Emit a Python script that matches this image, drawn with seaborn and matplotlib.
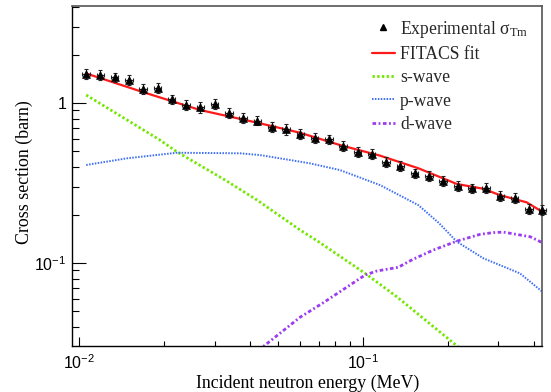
import matplotlib
matplotlib.use("Agg")
import matplotlib.pyplot as plt
from matplotlib.lines import Line2D
from matplotlib.ticker import NullFormatter, LogLocator
import seaborn as sns

# ---- data ----
exp_energy = [0.01059, 0.01189, 0.01335, 0.01499, 0.01683, 0.01890, 0.02122, 0.02382,
              0.02675, 0.03003, 0.03373, 0.03786, 0.04251, 0.04774, 0.05359, 0.06018,
              0.06757, 0.07587, 0.08518, 0.09566, 0.1074, 0.1206, 0.1354, 0.1520,
              0.1707, 0.1916, 0.2152, 0.2416, 0.2713, 0.3046, 0.3420, 0.3840, 0.428]
exp_sigma = [1.52, 1.50, 1.45, 1.39, 1.23, 1.24, 1.06, 0.97, 0.94, 0.99, 0.87, 0.81,
             0.775, 0.71, 0.685, 0.64, 0.607, 0.593, 0.541, 0.496, 0.480, 0.430, 0.406,
             0.364, 0.350, 0.326, 0.304, 0.293, 0.296, 0.263, 0.254, 0.2175, 0.215]
exp_sigma_err = [0.11, 0.10, 0.10, 0.10, 0.09, 0.09, 0.07, 0.07, 0.07, 0.07, 0.06, 0.06,
                 0.05, 0.05, 0.05, 0.045, 0.042, 0.041, 0.038, 0.035, 0.034, 0.030, 0.028,
                 0.025, 0.024, 0.023, 0.021, 0.020, 0.021, 0.018, 0.018, 0.015, 0.015]
exp_energy_err = [0.00032, 0.00036, 0.00040, 0.00045, 0.00050, 0.00057, 0.00064, 0.00071,
                  0.00080, 0.00090, 0.00101, 0.00114, 0.00128, 0.00143, 0.00161, 0.00181,
                  0.00203, 0.00228, 0.00256, 0.00287, 0.00322, 0.00362, 0.00406, 0.00456,
                  0.00512, 0.00575, 0.00646, 0.00725, 0.00814, 0.00914, 0.01026, 0.01152,
                  0.01284]

fit_energy = [0.0106, 0.0168, 0.0267, 0.0425, 0.0600, 0.0830, 0.1148, 0.1567,
              0.214, 0.2655, 0.303, 0.377, 0.428]
fit_sigma = [1.53, 1.17, 0.904, 0.753, 0.652, 0.546, 0.469, 0.391,
             0.312, 0.291, 0.266, 0.2395, 0.209]

s_energy = [0.0106, 0.01928, 0.0221, 0.0327, 0.0423, 0.0600, 0.0697, 0.1017, 0.1315,
            0.214, 0.238]
s_sigma = [1.122, 0.587, 0.496, 0.330, 0.248, 0.161, 0.136, 0.0862, 0.0616,
           0.0304, 0.026]

p_energy = [0.0106, 0.01472, 0.0221, 0.0369, 0.0434, 0.0650, 0.0830, 0.1148, 0.1567,
            0.185, 0.214, 0.2655, 0.357, 0.428]
p_sigma = [0.410, 0.451, 0.489, 0.485, 0.473, 0.420, 0.381, 0.307, 0.230,
           0.178, 0.136, 0.107, 0.0862, 0.0662]

d_energy = [0.040, 0.0448, 0.0600, 0.0725, 0.1017, 0.1117, 0.1330, 0.150, 0.177,
            0.214, 0.258, 0.288, 0.312, 0.388, 0.428]
d_sigma = [0.0262, 0.0303, 0.0458, 0.0565, 0.0841, 0.0891, 0.0940, 0.1055, 0.1206,
           0.137, 0.151, 0.155, 0.156, 0.146, 0.134]

legend_labels = [r"Experimental $\sigma_{\mathrm{Tm}}$", "FITACS fit", "s-wave", "p-wave", "d-wave"]

# ---- styling ----
sns.set_theme(style="white")
plt.rcParams['font.family'] = ['Liberation Serif', 'DejaVu Serif']
plt.rcParams['mathtext.fontset'] = 'custom'
plt.rcParams['mathtext.rm'] = 'Liberation Serif'
plt.rcParams['mathtext.it'] = 'Liberation Serif:italic'
plt.rcParams['mathtext.default'] = 'rm'
plt.rcParams['lines.scale_dashes'] = False

c_fit = '#ff1a1a'
c_s = '#72e800'
c_p = '#3d6ef5'
c_d = '#9b3cf2'
ls_s = (0, (1.7, 1.7))
ls_p = (0, (1.1, 1.0))
ls_d = (0, (2.6, 1.8, 1.3, 1.8))
lw_s, lw_p, lw_d, lw_fit = 2.0, 1.4, 2.0, 1.6

fig = plt.figure(figsize=(5.51, 3.92), dpi=100)
W, H = 551.0, 392.0
x0, x1, y0, y1 = 72.3, 542.3, 6.0, 346.0
ax = fig.add_axes([x0 / W, 1 - y1 / H, (x1 - x0) / W, (y1 - y0) / H])
ax.set_xscale('log')
ax.set_yscale('log')

sns.lineplot(x=s_energy, y=s_sigma, ax=ax, color=c_s, lw=lw_s, linestyle=ls_s,
             sort=False, estimator=None)
sns.lineplot(x=p_energy, y=p_sigma, ax=ax, color=c_p, lw=lw_p, linestyle=ls_p,
             sort=False, estimator=None)
sns.lineplot(x=d_energy, y=d_sigma, ax=ax, color=c_d, lw=lw_d, linestyle=ls_d,
             sort=False, estimator=None)
sns.lineplot(x=fit_energy, y=fit_sigma, ax=ax, color=c_fit, lw=lw_fit,
             sort=False, estimator=None)

ax.errorbar(exp_energy, exp_sigma, yerr=exp_sigma_err, xerr=exp_energy_err, fmt='none',
            ecolor='#222222', elinewidth=0.8, capsize=1.5, capthick=0.8, zorder=4, clip_on=False)
sns.scatterplot(x=exp_energy, y=exp_sigma, ax=ax, marker='^', s=32, color='black',
                edgecolor='black', linewidth=0.5, zorder=5, clip_on=False)

ax.set_xlim(0.00947, 0.428)
ax.set_ylim(0.0303, 4.04)

ax.set_xticks([0.01, 0.1], labels=[r"$\mathdefault{10^{-2}}$", r"$\mathdefault{10^{-1}}$"])
ax.set_yticks([0.1, 1], labels=[r"$\mathdefault{10^{-1}}$", "1"])
ax.xaxis.set_minor_locator(LogLocator(base=10, subs=range(2, 10), numticks=20))
ax.yaxis.set_minor_locator(LogLocator(base=10, subs=range(2, 10), numticks=20))
ax.xaxis.set_minor_formatter(NullFormatter())
ax.yaxis.set_minor_formatter(NullFormatter())

ax.tick_params(which='both', direction='in', bottom=True, left=True, top=False, right=False,
               color='black', labelfontfamily='Liberation Sans', labelsize=11.5,
               labelcolor='black')
ax.tick_params(axis='x', which='major', length=6.7, width=0.8, pad=5)
ax.tick_params(axis='x', which='minor', length=3.4, width=0.8)
ax.tick_params(axis='y', which='major', length=10, width=0.8, pad=4)
ax.tick_params(axis='y', which='minor', length=5, width=0.8)

for side in ['left', 'bottom']:
    ax.spines[side].set_color('black')
    ax.spines[side].set_linewidth(1.0)
for side in ['top', 'right']:
    ax.spines[side].set_color('#555555')
    ax.spines[side].set_linewidth(1.2)

ax.set_xlabel("Incident neutron energy (MeV)", fontsize=12.9, color='black')
ax.set_ylabel("Cross section (barn)", fontsize=12.9, color='black')
ax.xaxis.set_label_coords(0.5, -0.083)
ax.yaxis.set_label_coords(-0.083, 0.51)

handles = [
    Line2D([], [], marker='^', color='black', linestyle='none', markersize=5),
    Line2D([], [], color=c_fit, lw=lw_fit),
    Line2D([], [], color=c_s, lw=lw_s, linestyle=ls_s),
    Line2D([], [], color=c_p, lw=lw_p, linestyle=ls_p),
    Line2D([], [], color=c_d, lw=lw_d, linestyle=ls_d),
]
leg = ax.legend(handles=handles, labels=legend_labels, loc='upper left',
                bbox_to_anchor=(372 / W, 1 - 18.5 / H), bbox_transform=fig.transFigure,
                frameon=False, fontsize=12.7, handlelength=1.3, handletextpad=0.3,
                labelspacing=0.36, borderpad=0, borderaxespad=0)

fig.savefig("out.png", dpi=100)
